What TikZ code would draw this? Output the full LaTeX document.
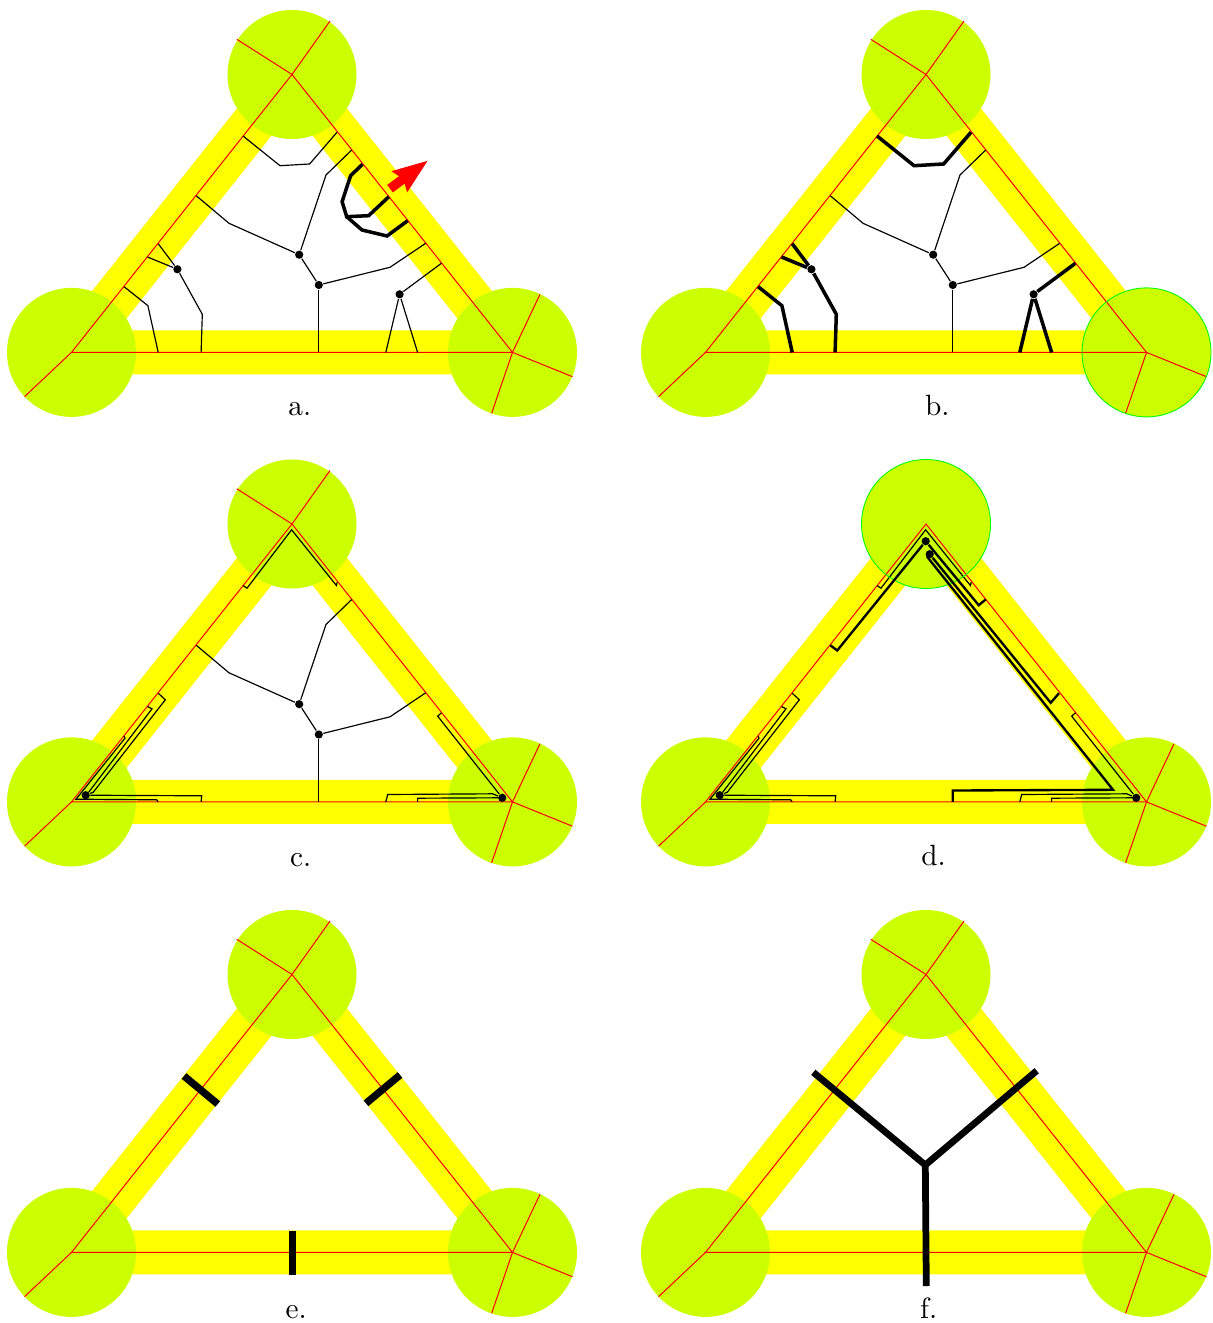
\documentclass[tikz,border=0pt]{standalone}
\usetikzlibrary{arrows.meta}
\definecolor{lobecol}{RGB}{204,255,0}
\definecolor{bandcol}{RGB}{255,255,0}
\definecolor{ringcol}{RGB}{0,255,0}
\definecolor{raycol}{RGB}{255,0,0}
\tikzset{
  band/.style={bandcol, line width=15pt},
  lobe/.style={fill=lobecol},
  ring/.style={ringcol, line width=0.3pt},
  ray/.style={raycol, line width=0.35pt},
  thread/.style={black, line width=0.4pt},
  mid/.style={black, line width=0.8pt},
  heavy/.style={black, line width=1.2pt},
  dot/.style={circle, fill=black, inner sep=0pt, minimum size=2.8pt},
  bar/.style={black, line width=2.5pt},
  tree/.style={black, line width=2.3pt},
  tag/.style={anchor=base}
}
% triangle, discs and the red lines shared by all panels
\newcommand{\basetri}{
  \coordinate (L) at (71.5,352.4);
  \coordinate (T) at (292,74.5);
  \coordinate (R) at (512.5,352.4);
  \draw[band] (L) -- (T) -- (R) -- cycle;
  \fill[lobe] (L) circle[radius=64.5];
  \fill[lobe] (T) circle[radius=64.5];
  \fill[lobe] (R) circle[radius=64.5];
  \coordinate (l1) at (24.5,396.7);
  \coordinate (t1) at (236.8,39.3);
  \coordinate (t2) at (330,21);
  \coordinate (r1) at (540,294.3);
  \coordinate (r2) at (572.4,376.7);
  \coordinate (r3) at (491.6,413.3);
  \draw[ray] (L) -- (T) -- (R) -- cycle;
  \draw[ray] (L) -- (l1);
}
\newcommand{\raysT}{\draw[ray] (T) -- (t1); \draw[ray] (T) -- (t2);}
\newcommand{\raysR}{\draw[ray] (R) -- (r1); \draw[ray] (R) -- (r2); \draw[ray] (R) -- (r3);}
% ends and bends of the cuts, on the triangle sides
\newcommand{\cutpoints}{
  \coordinate (a1) at (243,136);
  \coordinate (a2) at (280,165.7);
  \coordinate (a3) at (309.6,164);
  \coordinate (a4) at (337,132.3);
  \coordinate (b1) at (351.7,150);
  \coordinate (b2) at (326,175);
  \coordinate (c1) at (196.2,195.7);
  \coordinate (c2) at (229,223.3);
  \coordinate (d1) at (318.8,352.4);
  \coordinate (e1) at (390,267.3);
  \coordinate (e2) at (425.7,243.3);
  \coordinate (f1) at (441.4,263.3);
  \coordinate (f2) at (385.8,352.4);
  \coordinate (f3) at (417.6,352.4);
  \coordinate (g1) at (158.2,243.7);
  \coordinate (g2) at (147.5,257);
  \coordinate (g3) at (202.3,314.3);
  \coordinate (g4) at (201.1,352.4);
  \coordinate (h1) at (124.1,286.7);
  \coordinate (h2) at (147.9,305.7);
  \coordinate (h3) at (158.2,352.4);
}
% middle tree, the same in a, b and c
\newcommand{\midtree}{
  \node[dot] (n1) at (299.2,254.7) {};
  \node[dot] (n2) at (318.8,285) {};
  \draw[thread] (b1) -- (b2) -- (n1);
  \draw[thread] (c1) -- (c2) -- (n1);
  \draw[thread] (n1) -- (n2);
  \draw[thread] (n2) -- (d1);
  \draw[thread] (n2) -- (e1) -- (e2);
}
% cuts pushed towards the corners, the same in c and d
\newcommand{\corners}{
  \coordinate (p1) at (247,138.7);
  \coordinate (p2) at (291.6,80.3);
  \coordinate (p3) at (336.4,136);
  \coordinate (p4) at (337.2,132.7);
  \draw[thread] (a1) -- (p1) -- (p2) -- (p3) -- (p4);
  \node[dot] (n4) at (85.7,345.7) {};
  \coordinate (q1) at (165.3,250.3);
  \coordinate (q2) at (93.3,342.7);
  \coordinate (q3) at (152,259.3);
  \coordinate (q4) at (88.7,342.7);
  \coordinate (q5) at (125,288.7);
  \coordinate (q6) at (76,349.7);
  \coordinate (q7) at (156.7,350.3);
  \coordinate (q8) at (201.7,346.3);
  \draw[thread] (g1) -- (q1) -- (q2) -- (n4);
  \draw[thread] (g2) -- (q3) -- (q4) -- (n4);
  \draw[thread] (h1) -- (q5) -- (q6) -- (q7) -- (h3);
  \draw[thread] (n4) -- (q8) -- (g4);
  \node[dot] (n5) at (502.2,348.3) {};
  \coordinate (s1) at (437.7,266.7);
  \coordinate (s2) at (387.7,345);
  \coordinate (s3) at (492.7,344.3);
  \coordinate (s4) at (417.6,348.7);
  \coordinate (s5) at (498.3,348.3);
  \draw[thread] (f1) -- (s1) -- (n5);
  \draw[thread] (f2) -- (s2) -- (s3) -- (n5);
  \draw[thread] (f3) -- (s4) -- (s5) -- (n5);
}
\begin{document}
\begin{tikzpicture}[x=0.012cm, y=-0.012cm]
  \useasboundingbox (0,0) rectangle (1212,1323);
  % Panel a
  \begin{scope}
    \basetri \raysT \raysR \cutpoints \midtree
    \draw[thread] (a1) -- (a2) -- (a3) -- (a4);
    \node[dot] (n3) at (399.6,294.3) {};
    \draw[thread] (n3) -- (f1);
    \draw[thread] (n3) -- (f2);
    \draw[thread] (n3) -- (f3);
    \node[dot] (n4) at (177.4,269.3) {};
    \draw[thread] (n4) -- (g1);
    \draw[thread] (n4) -- (g2);
    \draw[thread] (n4) -- (g3) -- (g4);
    \draw[thread] (h1) -- (h2) -- (h3);
    % Moved strands
    \coordinate (k1) at (362.5,164.3);
    \coordinate (k2) at (350.6,175.7);
    \coordinate (k3) at (342.1,201.7);
    \coordinate (k4) at (346.7,216.7);
    \coordinate (k5) at (368.6,215.7);
    \coordinate (k6) at (388.9,196.7);
    \coordinate (k7) at (362,230);
    \coordinate (k8) at (387,236);
    \coordinate (k9) at (407.7,220.7);
    \draw[heavy] (k1) -- (k2) -- (k3) -- (k4) -- (k5) -- (k6);
    \draw[heavy] (k4) -- (k7) -- (k8) -- (k9);
    \coordinate (m1) at (390,188.7);
    \coordinate (m2) at (428,160.5);
    \draw[raycol, line width=3.2pt, -{Stealth[length=11.8pt, width=8.3pt, inset=1.3pt]}] (m1) -- (m2);
    \node[tag] (la) at (299.8,416) {a.};
  \end{scope}
  % Panel b
  \begin{scope}[shift={(634,0)}]
    \basetri \raysT \cutpoints \midtree
    \draw[ray] (R) -- (r2);
    \draw[ray] (R) -- (r3);
    \draw[ring] (R) circle[radius=64.5];
    \draw[heavy] (a1) -- (a2) -- (a3) -- (a4);
    \node[dot] (n3) at (399.6,294.3) {};
    \draw[heavy] (n3) -- (f1);
    \draw[heavy] (n3) -- (f2);
    \draw[heavy] (n3) -- (f3);
    \node[dot] (n4) at (177.4,269.3) {};
    \draw[heavy] (n4) -- (g1);
    \draw[heavy] (n4) -- (g2);
    \draw[heavy] (n4) -- (g3) -- (g4);
    \draw[heavy] (h1) -- (h2) -- (h3);
    \node[tag] (lb) at (303.3,416) {b.};
  \end{scope}
  % Panel c
  \begin{scope}[shift={(0,449.5)}]
    \basetri \raysT \raysR \cutpoints \midtree \corners
    \node[tag] (lc) at (300.8,417) {c.};
  \end{scope}
  % Panel d
  \begin{scope}[shift={(634,449.5)}]
    \basetri \raysR \cutpoints \corners
    \draw[ring] (T) circle[radius=64.5];
    \node[dot] (n1) at (291.7,91.7) {};
    \node[dot] (n2) at (295.7,104.7) {};
    \coordinate (u1) at (203.2,201);
    \coordinate (v1) at (344.7,155.7);
    \coordinate (w1) at (425,243.7);
    \coordinate (w2) at (416.7,253.3);
    \coordinate (x1) at (318.8,341);
    \coordinate (x2) at (479,340.3);
    \coordinate (x3) at (293.5,107.7);
    \draw[mid] (c1) -- (u1) -- (n1);
    \draw[mid] (b1) -- (v1) -- (n1);
    \draw[mid] (w1) -- (w2) -- (n2);
    \draw[mid] (d1) -- (x1) -- (x2) -- (x3) -- (n2);
    \node[tag] (ld) at (299.5,416) {d.};
  \end{scope}
  % Panel e
  \begin{scope}[shift={(0,900)}]
    \basetri \raysT \raysR
    \coordinate (y1) at (184,176);
    \coordinate (y2) at (217.7,204);
    \coordinate (y3) at (366,203.3);
    \coordinate (y4) at (400,175);
    \coordinate (y5) at (292.3,330.7);
    \coordinate (y6) at (292.3,375.3);
    \draw[bar] (y1) -- (y2);
    \draw[bar] (y3) -- (y4);
    \draw[bar] (y5) -- (y6);
    \node[tag] (le) at (296.2,418) {e.};
  \end{scope}
  % Panel f
  \begin{scope}[shift={(634,900)}]
    \basetri \raysT \raysR
    \node[inner sep=0pt] (c) at (291.3,265) {};
    \coordinate (z1) at (179.3,172.3);
    \coordinate (z2) at (402.7,170.7);
    \coordinate (z3) at (292.3,386);
    \draw[tree] (c.center) -- (z1);
    \draw[tree] (c.center) -- (z2);
    \draw[tree] (c.center) -- (z3);
    \node[tag] (lf) at (294.7,418) {f.};
  \end{scope}
\end{tikzpicture}
\end{document}
